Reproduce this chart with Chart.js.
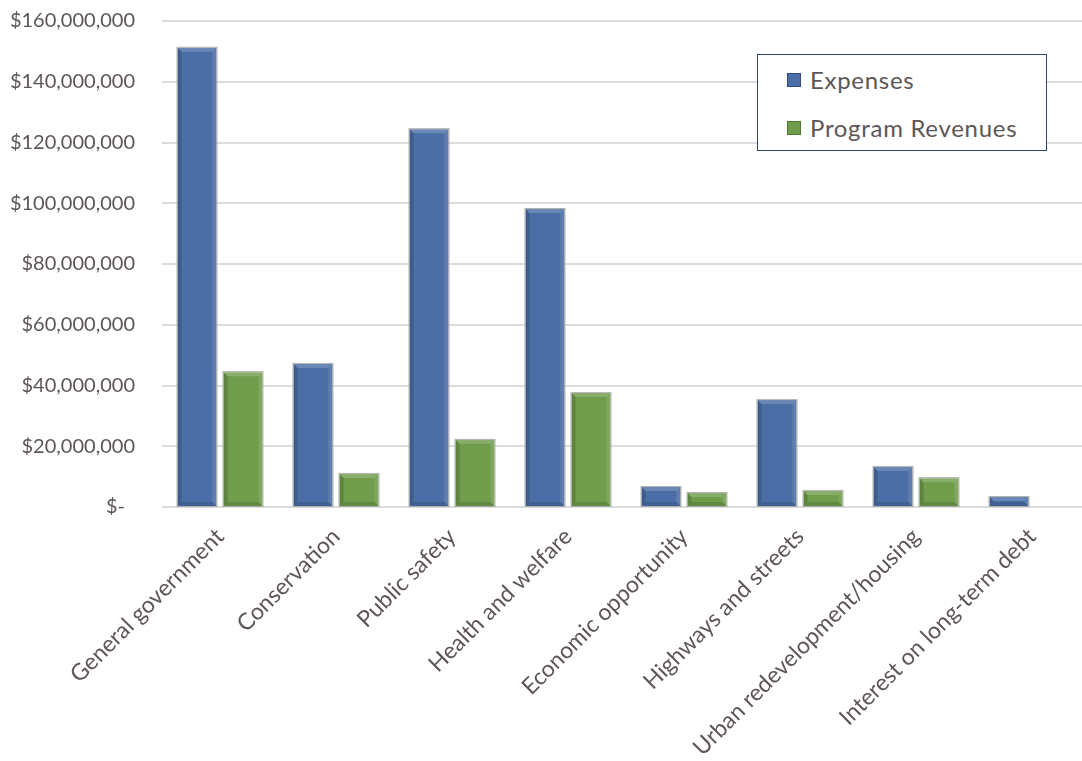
<!DOCTYPE html>
<html>
<head>
<meta charset="utf-8">
<script src="https://cdn.jsdelivr.net/npm/chart.js@4"></script>
<style>
  html, body { margin: 0; padding: 0; background: #fff; overflow: hidden; }
  #wrap { position: relative; width: 1090px; height: 761px; }
  #legend {
    position: absolute; left: 757px; top: 54px; width: 288px; height: 95px;
    border: 1.5px solid #2c4572; background: #fff;
    font-family: Lato, "Open Sans", sans-serif; font-size: 24px; letter-spacing: 0.7px; color: #5e5656;
  }
  #legend .item { position: absolute; left: 29px; display: flex; align-items: center; }
  #legend .sw { width: 14px; height: 14px; margin-right: 9px; box-sizing: border-box; }
</style>
</head>
<body>
<div id="wrap">
  <canvas id="myChart" width="1090" height="761"></canvas>
  <div id="legend"></div>
</div>
<script>
const categories = ['General government', 'Conservation', 'Public safety', 'Health and welfare',
  'Economic opportunity', 'Highways and streets', 'Urban redevelopment/housing', 'Interest on long-term debt'];
const seriesNames = ['Expenses', 'Program Revenues'];
const expenses = [151200000, 47100000, 124400000, 98100000, 6600000, 35200000, 13200000, 3300000];
const revenues = [44400000, 10900000, 22100000, 37500000, 4600000, 5300000, 9500000, 0];
const yTicksMax = 160000000;
const yTickStep = 20000000;

const textColor = '#5e5656';
const fontFamily = 'Lato, "Open Sans", sans-serif';
const barColors = ['#4a6ea5', '#6f9d4c'];
const edgeColors = ['#2e4d7e', '#4f7a33'];

// bevel look drawn over each bar, using the bar elements' own geometry
const bevelPlugin = {
  id: 'bevel',
  afterDatasetsDraw(chart) {
    const ctx = chart.ctx;
    chart.data.datasets.forEach((ds, di) => {
      chart.getDatasetMeta(di).data.forEach(bar => {
        const h = bar.base - bar.y;
        if (h < 1) return;
        const l = bar.x - bar.width / 2, r = bar.x + bar.width / 2;
        const t = bar.y, b = bar.base;
        const s = Math.min(4, h / 2, bar.width / 2);
        ctx.save();
        ctx.fillStyle = 'rgba(255,255,255,0.18)';
        ctx.beginPath(); ctx.moveTo(l, t); ctx.lineTo(r, t); ctx.lineTo(r - s, t + s); ctx.lineTo(l + s, t + s); ctx.closePath(); ctx.fill();
        ctx.fillStyle = 'rgba(0,0,0,0.12)';
        ctx.beginPath(); ctx.moveTo(l, b); ctx.lineTo(r, b); ctx.lineTo(r - s, b - s); ctx.lineTo(l + s, b - s); ctx.closePath(); ctx.fill();
        ctx.fillStyle = 'rgba(0,0,0,0.16)';
        ctx.beginPath(); ctx.moveTo(l, t); ctx.lineTo(l + s, t + s); ctx.lineTo(l + s, b - s); ctx.lineTo(l, b); ctx.closePath(); ctx.fill();
        ctx.fillStyle = 'rgba(255,255,255,0.12)';
        ctx.beginPath(); ctx.moveTo(r, t); ctx.lineTo(r - s, t + s); ctx.lineTo(r - s, b - s); ctx.lineTo(r, b); ctx.closePath(); ctx.fill();
        ctx.strokeStyle = 'rgba(170,170,170,0.9)';
        ctx.lineWidth = 1;
        ctx.strokeRect(l - 0.5, t - 0.5, bar.width + 1, h + 1);
        ctx.restore();
      });
    });
  }
};

const config = {
  type: 'bar',
  data: {
    labels: categories,
    datasets: [{
      label: seriesNames[0],
      data: expenses,
      backgroundColor: barColors[0],
      borderWidth: 0,
      categoryPercentage: 0.793,
      barPercentage: 0.848
    }, {
      label: seriesNames[1],
      data: revenues,
      backgroundColor: barColors[1],
      borderWidth: 0,
      categoryPercentage: 0.793,
      barPercentage: 0.848
    }]
  },
  options: {
    responsive: false,
    animation: false,
    layout: { padding: { top: 21, left: 0, right: 0, bottom: 0 } },
    plugins: {
      legend: { display: false },
      tooltip: { enabled: false }
    },
    scales: {
      x: {
        grid: { display: false, drawTicks: false },
        border: { display: false },
        ticks: {
          autoSkip: false,
          maxRotation: 45,
          minRotation: 45,
          padding: 16,
          color: textColor,
          font: { family: fontFamily, size: 23 }
        },
        afterFit(scale) { scale.height = 254; }
      },
      y: {
        min: 0,
        max: yTicksMax,
        // invisible tick marks give the gap between the labels and the plot
        grid: { color: '#dcdcdc', lineWidth: 2, drawTicks: true, tickLength: 27, tickColor: 'rgba(0,0,0,0)' },
        border: { display: false },
        ticks: {
          stepSize: yTickStep,
          padding: 0,
          color: textColor,
          font: { family: fontFamily, size: 20 },
          callback: v => v === 0 ? '$-\u2002' : '$' + v.toLocaleString('en-US')
        },
        afterFit(scale) { scale.width = 162; }
      }
    }
  },
  plugins: [bevelPlugin]
};

const myChart = new Chart(document.getElementById('myChart'), config);

// legend built from the chart's datasets
const legendBox = document.getElementById('legend');
const rowTops = [10, 58];
myChart.data.datasets.forEach((ds, i) => {
  const item = document.createElement('div');
  item.className = 'item';
  item.style.top = rowTops[i] + 'px';
  const sw = document.createElement('span');
  sw.className = 'sw';
  sw.style.background = ds.backgroundColor;
  sw.style.border = '1px solid ' + edgeColors[i];
  const txt = document.createElement('span');
  txt.textContent = ds.label;
  item.appendChild(sw);
  item.appendChild(txt);
  legendBox.appendChild(item);
});
</script>
</body>
</html>
